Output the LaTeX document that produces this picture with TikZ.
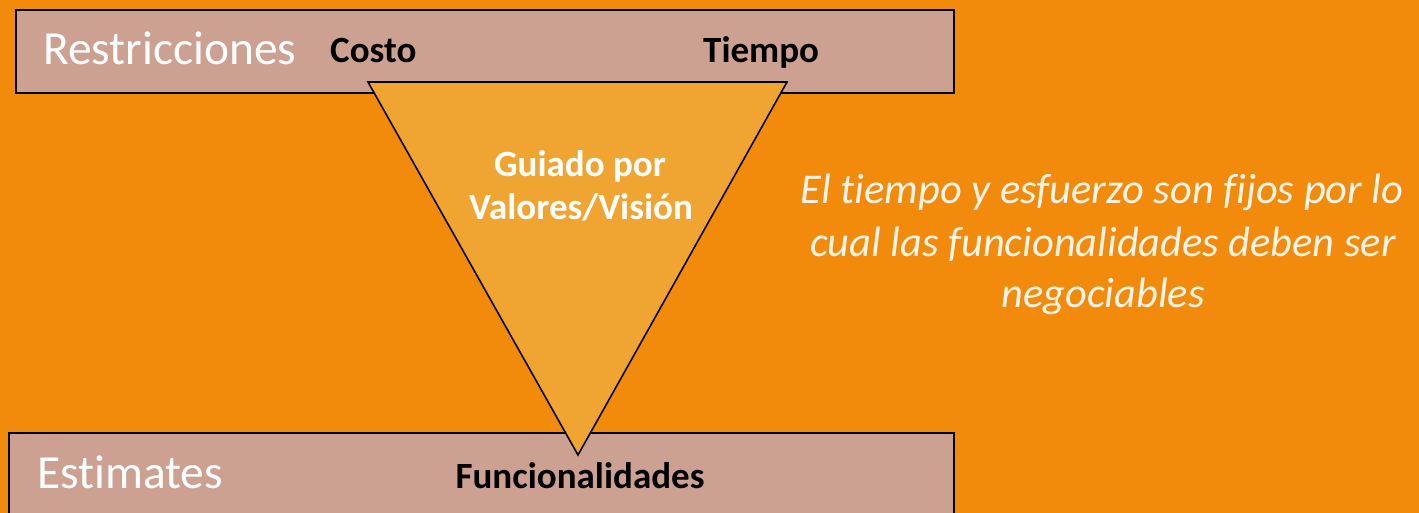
\documentclass[tikz,border=0pt]{standalone}
\usepackage{fontspec}
\setmainfont{Carlito}[Ligatures=NoCommon]
\definecolor{bgorange}{HTML}{F28B0C}
\definecolor{boxrose}{HTML}{CCA192}
\definecolor{trifill}{HTML}{F0A431}
\definecolor{lighttext}{HTML}{FFF4EA}
\begin{document}
\begin{tikzpicture}[x=1pt,y=-1pt,
  band/.style={draw=black,line width=1.6pt,fill=boxrose,inner sep=0pt,anchor=north west},
  bigwhite/.style={text=white,font=\fontsize{47.5}{57}\selectfont,anchor=base west,inner sep=0pt},
  boldblack/.style={text=black,font=\bfseries\fontsize{37}{44}\selectfont,inner sep=0pt},
  boldwhite/.style={text=white,font=\bfseries\fontsize{37}{44}\selectfont,inner sep=0pt,anchor=base},
  note/.style={text=lighttext,font=\itshape\fontsize{42.4}{51}\selectfont,inner sep=0pt,anchor=base}]
\useasboundingbox (0,0) rectangle (1419,513);
\fill[bgorange] (0,0) rectangle (1419,513);
% bands
\node[band,minimum width=938pt,minimum height=83pt] (top) at (15,9) {};
\node[band,minimum width=945pt,minimum height=100pt] (bottom) at (8,432) {};
% triangle
\coordinate (tl) at (368,82);
\coordinate (tr) at (787,82);
\coordinate (ap) at (578,455);
\draw[line width=1.6pt,fill=trifill,line join=miter] (tl) -- (tr) -- (ap) -- cycle;
% texts
\node[bigwhite] (restr) at (43,65) {Restricciones};
\node[boldblack,anchor=base west] (costo) at (330,63) {Costo};
\node[boldblack,anchor=base west] (tiempo) at (703,63) {Tiempo};
\node[bigwhite] (estim) at (37,488) {Estimates};
\node[boldblack,anchor=base] (func) at (580,488) {Funcionalidades};
\node[boldwhite] (g1) at (580,177) {Guiado por};
\node[boldwhite] (g2) at (581,220) {Valores/Visión};
\node[note] (n1) at (1102,204) {El tiempo y esfuerzo son fijos por lo};
\node[note] (n2) at (1103,257) {cual las funcionalidades deben ser};
\node[note] (n3) at (1103,307) {negociables};
\end{tikzpicture}
\end{document}
